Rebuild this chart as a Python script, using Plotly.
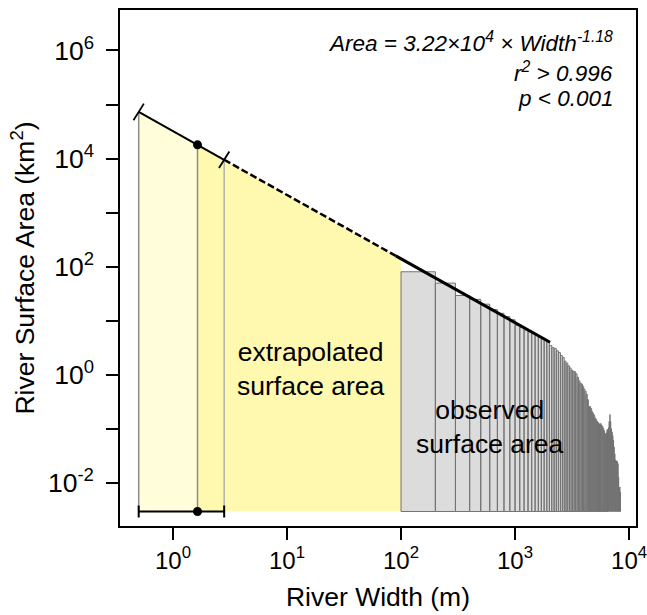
import plotly.graph_objects as go

# ---------------- data ----------------
# fit: Area = A_COEF * Width^EXPONENT
A_COEF = 3.22e4
EXPONENT = -1.18

extrap_lo = 0.5      # lower bound of extrapolation (m)
median_w = 1.64      # median estimate (m)
extrap_hi = 2.81     # upper bound (m)
extrap_end = 100     # start of observations (m)
fit_lo = 90
fit_hi = 2030
baseline = 0.003

bin_width = 100
bin_starts = list(range(100, 8500, 100))
bar_heights = [
    81, 50, 29.5, 25, 20.4, 16.2, 13.8, 12.0, 10.5,
    8.3, 7.6, 6.8, 6.3, 5.8, 5.4, 5.0, 4.7, 4.4, 4.1,
    3.5, 3.2, 3.1, 2.8, 2.6, 2.3, 2.1, 1.8, 1.66, 1.48,
    1.35, 1.23, 1.17, 1.15, 1.05, 0.91, 0.78, 0.71, 0.68, 0.62,
    0.55, 0.50, 0.44, 0.35, 0.26, 0.26, 0.24, 0.21, 0.195, 0.18,
    0.16, 0.15, 0.138, 0.132, 0.126, 0.12, 0.126, 0.117, 0.112, 0.102,
    0.093, 0.083, 0.076, 0.085, 0.098, 0.093, 0.107, 0.138, 0.186, 0.138,
    0.102, 0.089, 0.076, 0.063, 0.047, 0.035, 0.027, 0.026, 0.026, 0.025,
    0.023, 0.013, 0.0085, 0.0085, 0.0068,
]

x_tickvals = [1, 10, 100, 1000, 10000]
x_ticktext = ["10<sup>0</sup>", "10<sup>1</sup>", "10<sup>2</sup>", "10<sup>3</sup>", "10<sup>4</sup>"]
y_tickvals = [1e-2, 1e-1, 1e0, 1e1, 1e2, 1e3, 1e4, 1e5, 1e6]
y_ticktext = ["10<sup>-2</sup>", "", "10<sup>0</sup>", "", "10<sup>2</sup>", "", "10<sup>4</sup>", "", "10<sup>6</sup>"]


def fit(w):
    return A_COEF * w ** EXPONENT


FONT = "Liberation Sans, Arial, sans-serif"
BIG = 26.5
fig = go.Figure()

# extrapolated area fills
fig.add_trace(go.Scatter(
    x=[extrap_lo, extrap_lo, median_w, median_w, extrap_lo],
    y=[baseline, fit(extrap_lo), fit(median_w), baseline, baseline],
    fill="toself", fillcolor="#FFFDDA", line=dict(width=0), mode="lines",
    showlegend=False, hoverinfo="skip"))
fig.add_trace(go.Scatter(
    x=[median_w, median_w, extrap_end, extrap_end, median_w],
    y=[baseline, fit(median_w), fit(extrap_end), baseline, baseline],
    fill="toself", fillcolor="#FFF9B0", line=dict(width=0), mode="lines",
    showlegend=False, hoverinfo="skip"))

# vertical bound lines
for w, c in [(extrap_lo, "#8c8c8c"), (median_w, "#8c8c8c"), (extrap_hi, "#b0b0b0")]:
    fig.add_trace(go.Scatter(x=[w, w], y=[baseline, fit(w)], mode="lines",
                             line=dict(color=c, width=1.5), showlegend=False, hoverinfo="skip"))

# observed histogram bars
bx, by = [], []
for s, h in zip(bin_starts, bar_heights):
    e = s + bin_width
    bx += [s, s, e, e, s, None]
    by += [baseline, h, h, baseline, baseline, None]
fig.add_trace(go.Scatter(x=bx, y=by, fill="toself", fillcolor="#DCDCDC",
                         line=dict(color="#737373", width=1), mode="lines",
                         showlegend=False, hoverinfo="skip"))

# fit line pieces
fig.add_trace(go.Scatter(x=[extrap_lo, extrap_hi], y=[fit(extrap_lo), fit(extrap_hi)], mode="lines",
                         line=dict(color="black", width=2), showlegend=False))
fig.add_trace(go.Scatter(x=[extrap_hi, fit_lo], y=[fit(extrap_hi), fit(fit_lo)], mode="lines",
                         line=dict(color="black", width=2.5, dash="7px,3px"), showlegend=False))
fig.add_trace(go.Scatter(x=[fit_lo, fit_hi], y=[fit(fit_lo), fit(fit_hi)], mode="lines",
                         line=dict(color="black", width=3), showlegend=False))
# end ticks on line
fig.add_trace(go.Scatter(x=[extrap_lo, extrap_hi], y=[fit(extrap_lo), fit(extrap_hi)], mode="markers",
                         marker=dict(symbol="line-ns", size=14, angle=32,
                                     line=dict(color="black", width=1.8)),
                         showlegend=False))
# median point on line
fig.add_trace(go.Scatter(x=[median_w], y=[fit(median_w)], mode="markers",
                         marker=dict(color="black", size=9), showlegend=False))
# error bar at baseline
fig.add_trace(go.Scatter(x=[median_w], y=[baseline], mode="markers",
                         marker=dict(color="black", size=9),
                         error_x=dict(type="data", symmetric=False,
                                      array=[extrap_hi - median_w],
                                      arrayminus=[median_w - extrap_lo],
                                      color="black", thickness=2, width=6),
                         showlegend=False))

# annotations
fig.add_annotation(x=1.21, y=0.11, xref="x", yref="y", text="extrapolated<br>surface area",
                   showarrow=False, font=dict(family=FONT, size=BIG, color="black"))
fig.add_annotation(x=2.78, y=-0.96, xref="x", yref="y", text="observed<br>surface area",
                   showarrow=False, font=dict(family=FONT, size=BIG, color="black"))
for txt, yp in [("<i>Area = 3.22×10<sup>4</sup> × Width<sup>-1.18</sup></i>", 0.938),
                ("<i>r<sup>2</sup> &gt; 0.996</i>", 0.880),
                ("<i>p &lt; 0.001</i>", 0.828)]:
    fig.add_annotation(x=0.959, y=yp, xref="paper", yref="paper", text=txt, showarrow=False,
                       xanchor="right", yanchor="middle",
                       font=dict(family=FONT, size=22.5, color="black"))

axis_common = dict(type="log", showgrid=False, zeroline=False, showline=True, mirror=True,
                   linecolor="black", linewidth=1.5, ticks="outside", ticklen=12,
                   tickwidth=1.5, tickcolor="black", ticklabeloverflow="allow",
                   automargin=False)
fig.update_xaxes(range=[-0.465, 4.061], tickmode="array", tickvals=x_tickvals, ticktext=x_ticktext,
                 tickfont=dict(family=FONT, size=24, color="black"),
                 title=dict(text="River Width (m)", font=dict(family=FONT, size=BIG, color="black"),
                            standoff=15), **axis_common)
fig.update_yaxes(range=[-2.791, 6.747], tickmode="array", tickvals=y_tickvals, ticktext=y_ticktext,
                 ticklabelstandoff=7, tickfont=dict(family=FONT, size=BIG, color="black"),
                 title=dict(text="River Surface Area (km<sup>2</sup>)",
                            font=dict(family=FONT, size=BIG, color="black"), standoff=6),
                 **axis_common)
fig.update_layout(width=647, height=615, margin=dict(l=120, r=11, t=10, b=89),
                  plot_bgcolor="white", paper_bgcolor="white", showlegend=False,
                  font=dict(family=FONT))
# drop the default page margin so the figure fills the window exactly
fig.write_html("out.html", config={"displayModeBar": False},
               post_script="document.body.style.margin='0px';")
